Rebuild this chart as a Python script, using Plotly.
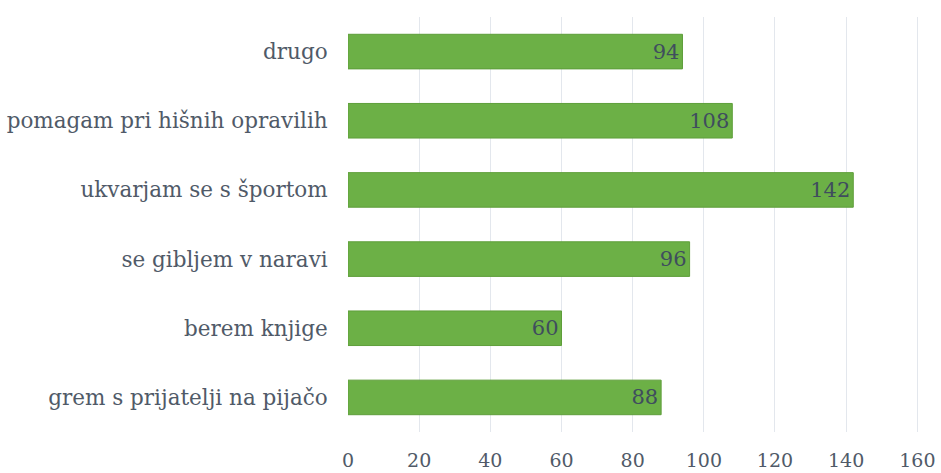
import plotly.graph_objects as go

categories = [
    "grem s prijatelji na pijačo",
    "berem knjige",
    "se gibljem v naravi",
    "ukvarjam se s športom",
    "pomagam pri hišnih opravilih",
    "drugo",
]
values = [88, 60, 96, 142, 108, 94]
x_ticks = [0, 20, 40, 60, 80, 100, 120, 140, 160]

FONT = "DejaVu Serif"

fig = go.Figure(
    go.Bar(
        x=values,
        y=categories,
        orientation="h",
        text=[str(v) for v in values],
        textposition="inside",
        insidetextanchor="end",
        textfont=dict(family=FONT, size=21, color="#3f4d5e"),
        marker=dict(color="#6cb046", line=dict(color="#5e9e3a", width=1)),
        width=0.5,
    )
)

fig.update_layout(
    width=941,
    height=473,
    paper_bgcolor="white",
    plot_bgcolor="white",
    showlegend=False,
    margin=dict(l=348, r=13, t=17, b=41, autoexpand=False),
    font=dict(family=FONT, color="#505a68"),
    xaxis=dict(
        range=[0, 163],
        tickvals=x_ticks,
        tickfont=dict(family=FONT, size=19, color="#505a68"),
        showgrid=True,
        gridcolor="#e3e7ed",
        gridwidth=1,
        zeroline=False,
        showline=False,
        ticks="outside",
        ticklen=11,
        tickcolor="rgba(0,0,0,0)",
        automargin=False,
    ),
    yaxis=dict(
        tickfont=dict(family=FONT, size=21.5, color="#505a68"),
        showgrid=False,
        zeroline=False,
        ticks="outside",
        ticklen=15,
        tickcolor="rgba(0,0,0,0)",
        automargin=False,
    ),
)

# drop the default body margin so the figure fills the window exactly
fig.write_html(
    "out.html",
    config={"displayModeBar": False},
    post_script="document.body.style.margin='0';document.body.style.overflow='hidden';",
)
